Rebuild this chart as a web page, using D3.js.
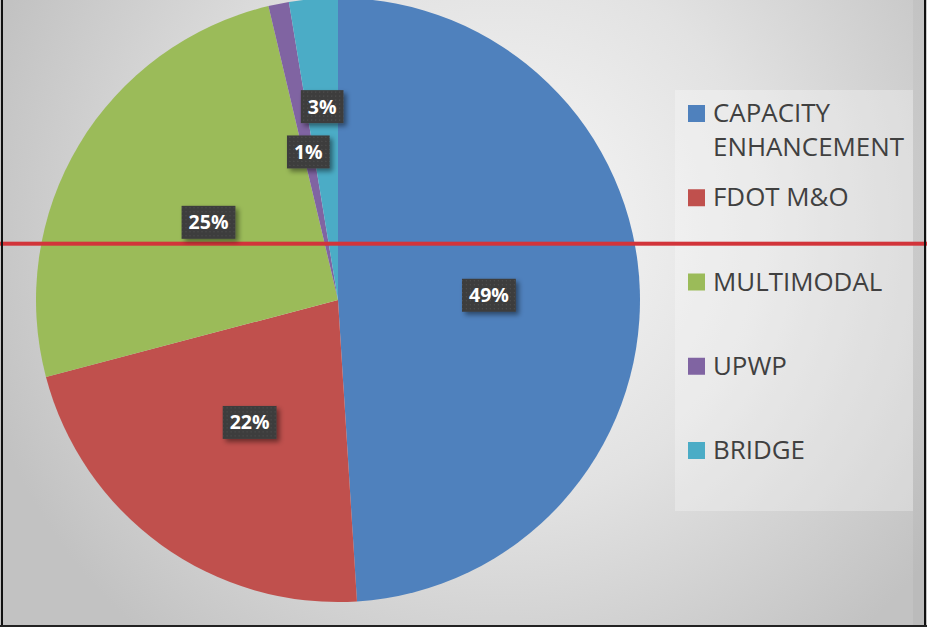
<!DOCTYPE html>
<html><head><meta charset="utf-8">
<script src="https://cdn.jsdelivr.net/npm/d3@7"></script>
<style>html,body{margin:0;padding:0;background:#fff}svg{display:block}</style>
</head><body>
<script>
// ---- data ----
const categories = ["CAPACITY ENHANCEMENT", "FDOT M&O", "MULTIMODAL", "UPWP", "BRIDGE"];
const legendLines = [["CAPACITY", "ENHANCEMENT"], ["FDOT M&O"], ["MULTIMODAL"], ["UPWP"], ["BRIDGE"]];
const shares = [49.0, 21.9, 25.4, 1.1, 2.6];
const colors = ["#4f81bd", "#c0504d", "#9bbb59", "#8064a2", "#4bacc6"];

// ---- layout ----
const W = 927, H = 627;
const cx = 338, cy = 300, R = 302;

const svg = d3.select("body").append("svg").attr("width", W).attr("height", H);
const defs = svg.append("defs");

const bg = defs.append("radialGradient").attr("id", "bg")
  .attr("gradientUnits", "userSpaceOnUse")
  .attr("cx", 500).attr("cy", 230).attr("r", 540);
bg.append("stop").attr("offset", "0%").attr("stop-color", "#f8f8f8");
bg.append("stop").attr("offset", "50%").attr("stop-color", "#e2e2e2");
bg.append("stop").attr("offset", "100%").attr("stop-color", "#c2c2c2");

const pat = defs.append("pattern").attr("id", "dots").attr("patternUnits", "userSpaceOnUse")
  .attr("width", 4).attr("height", 4);
pat.append("rect").attr("width", 4).attr("height", 4).attr("fill", "#3e3e3e");
pat.append("rect").attr("x", 1).attr("y", 1).attr("width", 1).attr("height", 1).attr("fill", "#515151");

const sh = defs.append("filter").attr("id", "shadow").attr("x", "-30%").attr("y", "-30%").attr("width", "170%").attr("height", "170%");
sh.append("feDropShadow").attr("dx", 3).attr("dy", 3).attr("stdDeviation", 2.5)
  .attr("flood-color", "#000").attr("flood-opacity", 0.45);

svg.append("rect").attr("width", W).attr("height", H).attr("fill", "url(#bg)");

// ---- pie ----
const pie = d3.pie().sort(null).value(d => d).startAngle(0).endAngle(2 * Math.PI);
const arcs = pie(shares);
const arc = d3.arc().innerRadius(0).outerRadius(R);

const g = svg.append("g").attr("transform", `translate(${cx},${cy})`);
g.selectAll("path.slice").data(arcs).join("path")
  .attr("class", "slice")
  .attr("d", arc)
  .attr("fill", (d, i) => colors[i]);

// ---- legend ----
svg.append("rect").attr("x", 675).attr("y", 90).attr("width", 238).attr("height", 421)
  .attr("fill", "#ffffff").attr("fill-opacity", 0.28);
svg.append("rect").attr("x", 913).attr("y", 0).attr("width", 11).attr("height", H)
  .attr("fill", "#000").attr("fill-opacity", 0.03);

const ly = d3.scaleLinear().domain([0, categories.length - 1]).range([122, 459]);
const leg = svg.append("g");
categories.forEach((c, i) => {
  const y = ly(i);
  leg.append("rect").attr("x", 688).attr("y", y - 17).attr("width", 17).attr("height", 17).attr("fill", colors[i]);
  const t = leg.append("text").attr("x", 713).attr("y", y)
    .attr("font-family", "'Open Sans', sans-serif").attr("font-size", 25.9).attr("fill", "#404040");
  legendLines[i].forEach((ln, k) => {
    t.append("tspan").attr("x", 713).attr("y", y + k * 34).text(ln);
  });
});

// ---- red horizontal line ----
svg.append("rect").attr("x", 0).attr("y", 241.7).attr("width", W).attr("height", 4).attr("fill", "#d2343a");

// ---- data labels ----
const placed = [];
const lab = svg.append("g");
const fs = 19.5;
arcs.forEach((d, i) => {
  const txt = Math.round(d.data) + "%";
  const tmp = lab.append("text").attr("font-family", "'Open Sans', sans-serif").attr("font-weight", "bold")
    .attr("font-size", fs).text(txt);
  const bw = tmp.node().getComputedTextLength() + 14;
  const bh = 33;
  tmp.remove();
  const mid = (d.startAngle + d.endAngle) / 2;
  let rr = R * 0.5;
  let x = cx + Math.sin(mid) * rr, y = cy - Math.cos(mid) * rr;
  const overlaps = (x, y) => placed.some(p => Math.abs(p.x - x) < (p.w + bw) / 2 + 2 && Math.abs(p.y - y) < (p.h + bh) / 2 + 12);
  while (overlaps(x, y) && rr < R) {
    rr += 1;
    x = cx + Math.sin(mid) * rr; y = cy - Math.cos(mid) * rr;
  }
  placed.push({x, y, w: bw, h: bh});
  const lg = lab.append("g").attr("transform", `translate(${x},${y})`);
  lg.append("rect").attr("x", -bw / 2).attr("y", -bh / 2).attr("width", bw).attr("height", bh)
    .attr("fill", "url(#dots)").attr("filter", "url(#shadow)");
  lg.append("text").attr("text-anchor", "middle").attr("dy", "0.36em")
    .attr("font-family", "'Open Sans', sans-serif").attr("font-weight", "bold")
    .attr("font-size", fs).attr("fill", "#ffffff").text(txt);
});

// ---- frame ----
svg.append("rect").attr("x", 1).attr("y", 0).attr("width", 2).attr("height", H).attr("fill", "#111");
svg.append("rect").attr("x", 924).attr("y", 0).attr("width", 2).attr("height", H).attr("fill", "#111");
svg.append("rect").attr("x", 0).attr("y", 625).attr("width", W).attr("height", 2).attr("fill", "#222");
</script>
</body></html>
